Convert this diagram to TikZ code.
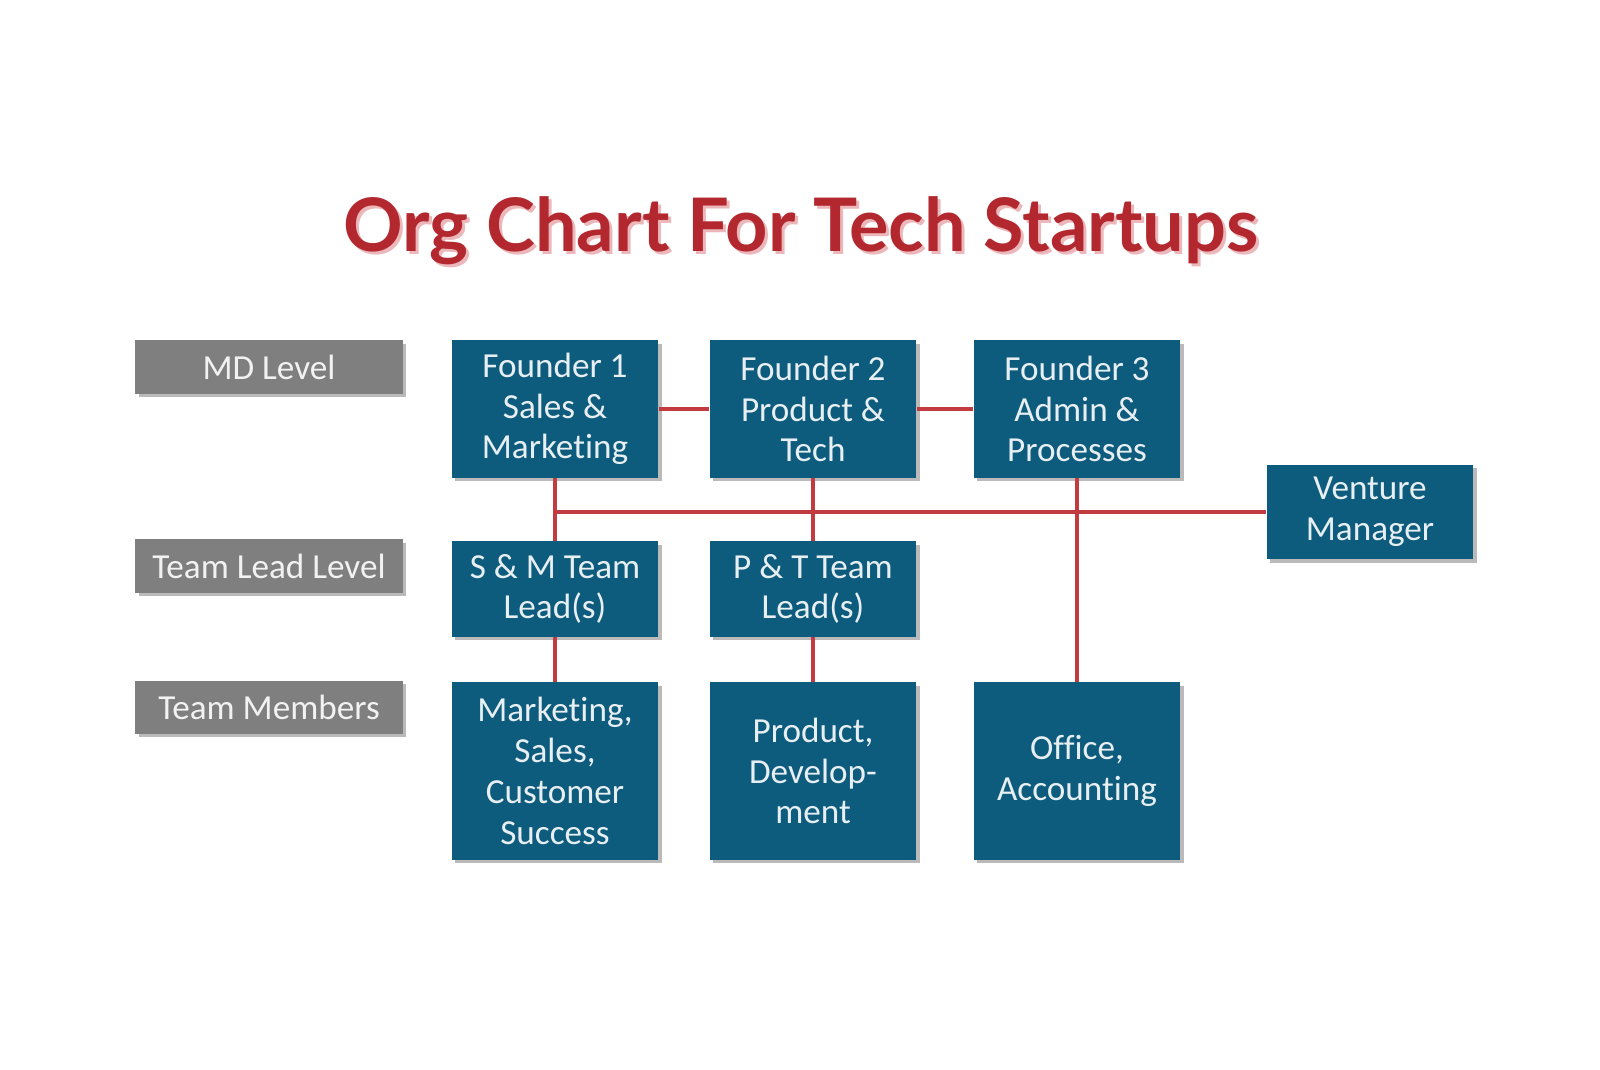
\documentclass[tikz,border=0pt]{standalone}
\usepackage{fontspec}
\setmainfont{Carlito}[Ligatures=NoCommon]
\newfontfamily\titlefont{Lato}
\usetikzlibrary{shadows}
\definecolor{boxblue}{HTML}{0E5C7D}
\definecolor{levelgray}{HTML}{7F7F7F}
\definecolor{linered}{HTML}{C23B41}
\definecolor{titlered}{HTML}{B3282F}
\definecolor{titleshade}{HTML}{EBB7BA}
\begin{document}
\begin{tikzpicture}[x=0.01cm,y=-0.01cm,
    unit/.style={fill=boxblue,text=white!90!boxblue,align=center,
      minimum width=2.06cm,inner sep=0pt,font=\fontsize{10}{11.6}\selectfont,
      drop shadow={shadow xshift=0.035cm,shadow yshift=-0.035cm,fill=black!45,opacity=0.6}},
    level/.style={fill=levelgray,text=white!90!levelgray,minimum width=2.67cm,
      minimum height=0.53cm,inner sep=0pt,font=\fontsize{10}{11.6}\selectfont,
      drop shadow={shadow xshift=0.035cm,shadow yshift=-0.035cm,fill=black!45,opacity=0.6}},
    link/.style={linered,line width=0.9pt}]
  \useasboundingbox (0,0) rectangle (1600,1069);
  % title
  \node[text=titleshade,font=\titlefont\bfseries\fontsize{21}{23}\selectfont] (shade) at (804,234) {Org Chart For Tech Startups};
  \node[text=titlered,font=\titlefont\bfseries\fontsize{21}{23}\selectfont] (title) at (801,231) {Org Chart For Tech Startups};
  % levels
  \node[level] (md) at (269,367) {MD Level};
  \node[level] (tl) at (269,566) {Team Lead Level};
  \node[level] (tm) at (269,707) {Team Members};
  % founders
  \node[unit,minimum height=1.37cm] (f1) at (555,409) {Founder 1\\Sales \&\\Marketing};
  \node[unit,minimum height=1.37cm] (f2) at (813,409) {Founder 2\\Product \&\\Tech};
  \node[unit,minimum height=1.37cm] (f3) at (1077,409) {Founder 3\\Admin \&\\Processes};
  \node[unit,minimum height=0.94cm] (vm) at (1370,512) {Venture\\Manager};
  % team leads
  \node[unit,minimum height=0.95cm] (sm) at (555,589) {S \& M Team\\Lead(s)};
  \node[unit,minimum height=0.95cm] (pt) at (813,589) {P \& T Team\\Lead(s)};
  % members
  \node[unit,minimum height=1.77cm] (ms) at (555,771) {Marketing,\\Sales,\\Customer\\Success};
  \node[unit,minimum height=1.77cm] (pd) at (813,771) {Product,\\Develop-\\ment};
  \node[unit,minimum height=1.77cm] (oa) at (1077,771) {Office,\\Accounting};
  % links
  \coordinate (j1) at (f1.south |- vm.west);
  \draw[link] (f1) -- (f2);
  \draw[link] (f2) -- (f3);
  \draw[link] (j1) -- (vm.west);
  \draw[link] (f1.south) -- (sm.north);
  \draw[link] (f2.south) -- (pt.north);
  \draw[link] (f3.south) -- (oa.north);
  \draw[link] (sm.south) -- (ms.north);
  \draw[link] (pt.south) -- (pd.north);
\end{tikzpicture}
\end{document}
